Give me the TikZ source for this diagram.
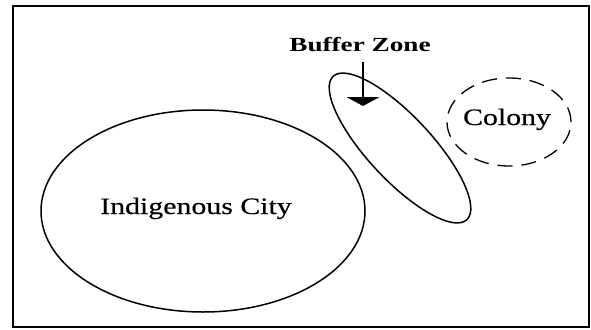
\documentclass[tikz,border=0pt]{standalone}
\usepackage{fontspec}
\setmainfont{Liberation Serif}
\newfontfamily\zoneserif[FakeStretch=1.27, FakeBold=0.4]{Liberation Serif}
\newfontfamily\zonebold[FakeStretch=1.36]{Liberation Serif Bold}
\usetikzlibrary{arrows.meta, positioning}

\begin{document}
\begin{tikzpicture}[
    x=1pt, y=-1pt,
    frame/.style={draw, line width=1.8pt},
    region/.style={draw, line width=1.5pt},
    colonyline/.style={draw, line width=1.3pt, dash pattern=on 15pt off 9pt},
    label/.style={font=\fontsize{23.5}{25}\selectfont\zoneserif, anchor=base,
                  inner sep=0pt},
    boldlabel/.style={font=\fontsize{20}{22}\selectfont\zonebold,
                      anchor=base, inner sep=0pt},
    pointer/.style={-{Triangle[width=33pt, length=9pt]}, line width=1.5pt},
]
\useasboundingbox (0,0) rectangle (591,329);

% ── outer frame ─────────────────────────────────────────────────────────
\draw[frame] (13,6) rectangle (589,327);

% ── regions ─────────────────────────────────────────────────────────────
\draw[region] (203,211) ellipse [x radius=162pt, y radius=101pt];
\draw[region, rotate around={-47:(400,148)}]
      (400,148) ellipse [x radius=98pt, y radius=32pt];
\draw[colonyline] (509,122) ellipse [x radius=62pt, y radius=44pt];

% ── labels ──────────────────────────────────────────────────────────────
\node[label]     (city)   at (196,214) {Indigenous City};
\node[label]     (colony) at (507,125) {Colony};
\node[boldlabel] (buffer) at (360,52)  {Buffer Zone};

% ── pointer into the buffer zone ───────────────────────────────────────
\coordinate (ptrtop) at (363,62);
\coordinate (ptrtip) at (363,106);
\draw[pointer] (ptrtop) -- (ptrtip);

\end{tikzpicture}
\end{document}
